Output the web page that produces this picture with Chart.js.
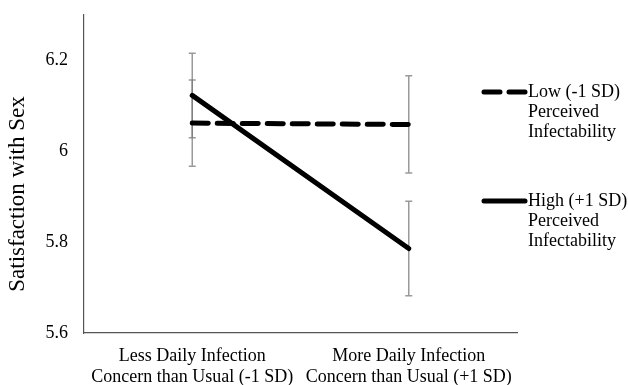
<!DOCTYPE html>
<html>
<head>
<meta charset="utf-8">
<script src="https://cdn.jsdelivr.net/npm/chart.js@4/dist/chart.umd.min.js"></script>
<style>
html,body{margin:0;padding:0;background:#fff;}
#wrap{width:628px;height:385px;position:relative;}
</style>
</head>
<body>
<div id="wrap"><canvas id="c" width="628" height="385"></canvas></div>
<script>
const categories = [["Less Daily Infection","Concern than Usual (-1 SD)"],["More Daily Infection","Concern than Usual (+1 SD)"]];
const seriesNames = [["Low (-1 SD)","Perceived","Infectability"],["High (+1 SD)","Perceived","Infectability"]];
const yTitle = "Satisfaction with Sex";
const lowValues = [6.062, 6.059];
const highValues = [6.123, 5.786];
const lowErrors = [0.095, 0.107];
const highErrors = [0.093, 0.104];
const yTicks = [5.6, 5.8, 6.0, 6.2];

const FONT = "'Liberation Serif','Times New Roman',serif";

const errorBarPlugin = {
  id: 'errorBars',
  beforeDatasetsDraw(chart) {
    const ctx = chart.ctx;
    const xs = chart.scales.x, ys = chart.scales.y;
    const sets = [[lowValues, lowErrors],[highValues, highErrors]];
    ctx.save();
    ctx.strokeStyle = 'rgba(120,120,120,0.75)';
    ctx.lineWidth = 1.5;
    sets.forEach(([vals, errs]) => {
      vals.forEach((v, i) => {
        const x = xs.getPixelForValue(i);
        const yt = ys.getPixelForValue(v + errs[i]);
        const yb = ys.getPixelForValue(v - errs[i]);
        ctx.beginPath();
        ctx.moveTo(x, yt); ctx.lineTo(x, yb);
        ctx.moveTo(x - 3.5, yt); ctx.lineTo(x + 3.5, yt);
        ctx.moveTo(x - 3.5, yb); ctx.lineTo(x + 3.5, yb);
        ctx.stroke();
      });
    });
    ctx.restore();
  }
};

const textPlugin = {
  id: 'customText',
  afterDraw(chart) {
    const ctx = chart.ctx;
    const ca = chart.chartArea;
    // y axis title
    ctx.save();
    ctx.font = "23px " + FONT;
    ctx.fillStyle = '#000';
    ctx.textAlign = 'center';
    ctx.textBaseline = 'middle';
    ctx.translate(18, (ca.top + ca.bottom) / 2 + 20);
    ctx.rotate(-Math.PI / 2);
    ctx.fillText(yTitle, 0, 0);
    ctx.restore();
    // legend
    const left = ca.right - 36;
    const tops = [92, 201];
    ctx.save();
    ctx.font = "18px " + FONT;
    ctx.fillStyle = '#000';
    ctx.textBaseline = 'middle';
    tops.forEach((y, k) => {
      ctx.beginPath();
      ctx.lineWidth = 5;
      ctx.lineCap = 'round';
      ctx.strokeStyle = '#000';
      if (k === 0) ctx.setLineDash([16, 9]); else ctx.setLineDash([]);
      ctx.moveTo(left + 3, y); ctx.lineTo(left + 44, y);
      ctx.stroke();
      ctx.setLineDash([]);
      seriesNames[k].forEach((t, j) => {
        ctx.fillText(t, left + 47, y + j * 20);
      });
    });
    ctx.restore();
  }
};

new Chart(document.getElementById('c'), {
  type: 'line',
  data: {
    labels: categories,
    datasets: [
      { label: 'Low', data: lowValues, borderColor: '#000', borderWidth: 5, borderDash: [16, 9], borderCapStyle: 'round', pointRadius: 0, fill: false },
      { label: 'High', data: highValues, borderColor: '#000', borderWidth: 5, borderCapStyle: 'round', pointRadius: 0, fill: false }
    ]
  },
  options: {
    responsive: false,
    animation: false,
    layout: { padding: { top: 15, right: 111, left: 0, bottom: 0 } },
    plugins: { legend: { display: false }, tooltip: { enabled: false } },
    scales: {
      x: {
        offset: true,
        afterFit(s) { s.paddingLeft = 0; s.paddingRight = 0; s.height = 52; },
        grid: { display: false, drawTicks: false },
        border: { color: '#555', width: 1.2 },
        ticks: { color: '#000', font: { family: FONT, size: 18, lineHeight: 1.15 }, padding: 13, maxRotation: 0, autoSkip: false }
      },
      y: {
        min: 5.6, max: 6.3,
        afterBuildTicks(axis) { axis.ticks = yTicks.map(v => ({ value: v })); },
        afterFit(s) { s.width = 84; s.paddingTop = 0; s.paddingBottom = 0; },
        grid: { display: false, drawTicks: false },
        border: { color: '#555', width: 1.2 },
        ticks: { color: '#000', font: { family: FONT, size: 18 }, padding: 16, callback: v => String(Math.round(v * 10) / 10) },
        title: { display: false }
      }
    }
  },
  plugins: [errorBarPlugin, textPlugin]
});
</script>
</body>
</html>
